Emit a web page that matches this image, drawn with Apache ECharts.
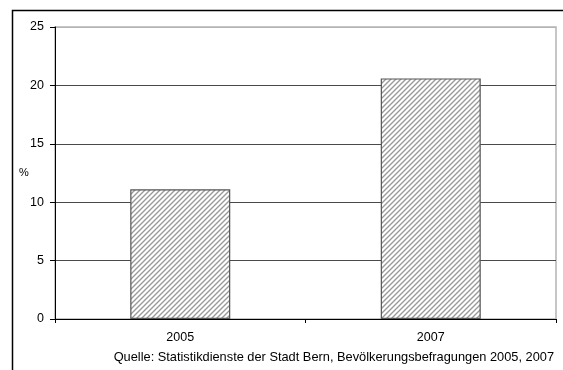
<!DOCTYPE html>
<html>
<head>
<meta charset="utf-8">
<script src="https://cdn.jsdelivr.net/npm/echarts@6/dist/echarts.min.js"></script>
<style>
  html, body { margin: 0; padding: 0; background: #fff; }
  #chart { width: 563px; height: 370px; }
</style>
</head>
<body>
<div id="chart"></div>
<script>
// Share of respondents (%), by survey year
const years = ['2005', '2007'];
const values = [11.1, 20.6];
const yTicks = [0, 5, 10, 15, 20, 25];
const unitLabel = '%';
const sourceNote = 'Quelle: Statistikdienste der Stadt Bern, Bevölkerungsbefragungen 2005, 2007';

// Diagonal hatch fill for the bars
function hatchPattern() {
  const s = 5;
  const c = document.createElement('canvas');
  c.width = s; c.height = s;
  const g = c.getContext('2d');
  g.fillStyle = '#ffffff';
  g.fillRect(0, 0, s, s);
  g.strokeStyle = '#9a9a9a';
  g.lineWidth = 1.4;
  g.beginPath();
  g.moveTo(-1, s + 1); g.lineTo(s + 1, -1);
  g.moveTo(-1, 1); g.lineTo(1, -1);
  g.moveTo(s - 1, s + 1); g.lineTo(s + 1, s - 1);
  g.stroke();
  return c;
}

const chart = echarts.init(document.getElementById('chart'), null, { renderer: 'canvas' });
const font = 'Arial, "Liberation Sans", sans-serif';

chart.setOption({
  animation: false,
  backgroundColor: '#ffffff',
  grid: {
    left: 55, right: 7, top: 27, bottom: 51,
    show: true, borderColor: '#b4b4b4', borderWidth: 1.5, backgroundColor: 'transparent'
  },
  xAxis: {
    type: 'category',
    data: years,
    axisLine: { show: true, lineStyle: { color: '#000', width: 1 } },
    axisTick: { show: true, alignWithLabel: false, length: 4, lineStyle: { color: '#000' } },
    axisLabel: { color: '#000', fontFamily: font, fontSize: 12.5, margin: 12 },
    splitLine: { show: false }
  },
  yAxis: {
    type: 'value',
    min: yTicks[0],
    max: yTicks[yTicks.length - 1],
    interval: yTicks[1] - yTicks[0],
    axisLine: { show: true, lineStyle: { color: '#000', width: 1 } },
    axisTick: { show: true, inside: false, length: 5, lineStyle: { color: '#000' } },
    axisLabel: { color: '#000', fontFamily: font, fontSize: 12.5, margin: 11 },
    splitLine: {
      show: true,
      lineStyle: { color: ['#4a4a4a', '#4a4a4a', '#4a4a4a', '#4a4a4a', '#4a4a4a', '#b4b4b4'], width: 1.2 }
    }
  },
  series: [{
    type: 'bar',
    data: values,
    barWidth: 100,
    itemStyle: {
      color: { image: hatchPattern(), repeat: 'repeat' },
      borderColor: '#555555',
      borderWidth: 1.2
    }
  }],
  graphic: [
    {
      type: 'rect',
      shape: { x: 12.5, y: 10.5, width: 600, height: 400 },
      style: { fill: 'none', stroke: '#000', lineWidth: 1.5 },
      silent: true
    },
    {
      type: 'text',
      left: 19, top: 167,
      style: { text: unitLabel, fill: '#000', font: '11px ' + font }
    },
    {
      type: 'text',
      right: 9, top: 351,
      style: { text: sourceNote, fill: '#000', font: '12.8px ' + font }
    }
  ]
});
</script>
</body>
</html>
